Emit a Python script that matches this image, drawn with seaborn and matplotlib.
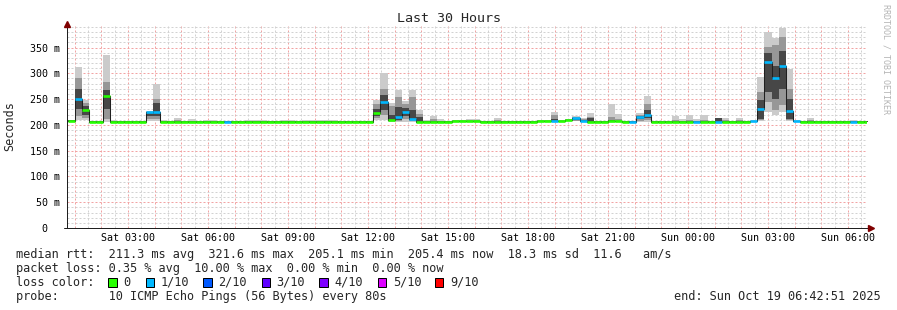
import numpy as np
import pandas as pd
import matplotlib
matplotlib.use("Agg")
import matplotlib.pyplot as plt
from matplotlib.ticker import MultipleLocator, FixedLocator, FuncFormatter
from matplotlib.patches import Rectangle
import matplotlib.transforms as mtransforms
import seaborn as sns

# ---------------- data ----------------
# time axis in hours since Sat 00:00; graph spans 00:42:51 Sat .. 06:42:51 Sun
X_START = 0.7142
X_END = 30.7142
STEP_H = 16 / 60          # consolidation step (16 min)
T0 = 0.7333               # left edge of first step

median_ms = [
    208, 251, 229, 206, 206, 255, 206, 206, 206, 206,
    206, 224, 224, 206, 206, 206, 206, 206, 206, 206,
    206, 206, 206, 206, 206, 206, 206, 206, 206, 206,
    206, 206, 206, 206, 206, 206, 206, 206, 206, 206,
    206, 206, 206, 223, 244, 210, 215, 225, 212, 206,
    206, 206, 206, 206, 208, 208, 208, 208, 206, 206,
    206, 206, 206, 206, 206, 206, 208, 208, 207, 208,
    210, 213, 207, 206, 206, 206, 207, 207, 206, 206,
    215, 220, 206, 206, 206, 206, 206, 206, 206, 206,
    206, 206, 206, 206, 206, 206, 207, 231, 322, 290,
    314, 227, 207, 206, 206, 206, 206, 206, 206, 206,
    206, 206, 205.5,
]
loss_tenths = [
    0, 1, 0, 0, 0, 0, 0, 0, 0, 0,
    0, 1, 1, 0, 0, 0, 0, 0, 0, 0,
    0, 0, 1, 0, 0, 0, 0, 0, 0, 0,
    0, 0, 0, 0, 0, 0, 0, 0, 0, 0,
    0, 0, 0, 0, 1, 0, 1, 1, 1, 0,
    0, 0, 0, 0, 0, 0, 0, 0, 0, 0,
    0, 0, 0, 0, 0, 0, 0, 0, 1, 0,
    0, 1, 1, 0, 0, 0, 0, 0, 0, 1,
    1, 1, 0, 0, 0, 0, 0, 0, 1, 0,
    0, 1, 0, 0, 0, 0, 1, 1, 1, 1,
    1, 1, 1, 0, 0, 0, 0, 0, 0, 0,
    1, 0, 0,
]
smoke_max = [
    210, 312, 248, 207, 207, 336, 209, 207, 207, 207,
    207, 226, 280, 210, 207, 213, 207, 211, 207, 210,
    210, 207, 207, 207, 207, 210, 210, 210, 207, 207,
    210, 210, 207, 210, 210, 210, 210, 210, 207, 207,
    207, 207, 207, 248, 301, 242, 268, 246, 268, 228,
    210, 217, 211, 207, 209, 209, 211, 211, 207, 207,
    213, 207, 207, 207, 207, 207, 209, 209, 225, 209,
    211, 217, 213, 223, 207, 207, 241, 220.5, 207, 207,
    223, 256, 207, 207, 207, 217, 211, 220, 211, 220,
    207, 213, 213, 207, 213, 207, 210, 293, 380, 368,
    388, 309, 210, 207, 213, 207, 207, 207, 207, 207,
    210, 207, 207,
]
smoke_hi2 = [
    209, 291, 243, 207, 207, 283, 207, 207, 207, 207,
    207, 225, 250, 208, 207, 209, 207, 208, 207, 208,
    208, 207, 207, 207, 207, 208, 208, 208, 207, 207,
    208, 208, 207, 208, 208, 208, 208, 208, 207, 207,
    207, 207, 207, 240, 270, 236, 254, 240, 254, 222,
    208, 212, 208, 207, 208.5, 208.5, 209, 209, 207, 207,
    209, 207, 207, 207, 207, 207, 208.5, 208.5, 220, 208.5,
    210.5, 215, 211, 216, 207, 207, 215, 212, 207, 207,
    219, 241, 207, 207, 207, 210, 208, 210, 208, 210,
    207, 213, 209, 207, 209, 207, 208, 264, 351, 354,
    370, 270, 208, 207, 209, 207, 207, 207, 207, 207,
    208, 207, 207,
]
smoke_hi1 = [
    208.5, 270, 236, 207, 207, 268, 207, 207, 207, 207,
    207, 224.5, 242, 207, 207, 207, 207, 207, 207, 207,
    207, 207, 207, 207, 207, 207, 207, 207, 207, 207,
    207, 207, 207, 207, 207, 207, 207, 207, 207, 207,
    207, 207, 207, 230, 258, 220, 235, 232, 228, 215,
    207, 208, 207, 207, 208, 208, 208, 208, 207, 207,
    207, 207, 207, 207, 207, 207, 208, 208, 212, 208,
    210.2, 214, 209, 213, 207, 207, 210, 208, 207, 207,
    217, 228, 207, 207, 207, 207, 207, 207, 207, 207,
    207, 212.5, 207, 207, 207, 207, 207, 249, 340, 315,
    344, 250, 207, 207, 207, 207, 207, 207, 207, 207,
    207, 207, 207,
]
smoke_lo1 = [
    207, 231, 220, 205, 205, 231, 205, 205, 205, 205,
    205, 218, 218, 205, 205, 205, 205, 205, 205, 205,
    205, 205, 205, 205, 205, 205, 205, 205, 205, 205,
    205, 205, 205, 205, 205, 205, 205, 205, 205, 205,
    205, 205, 205, 218, 228, 208, 210, 218, 209, 205,
    205, 205, 205, 205, 207, 207, 207, 207, 205, 205,
    205, 205, 205, 205, 205, 205, 207, 207, 205, 207,
    209, 210, 205, 205, 205, 205, 205, 205, 205, 205,
    211, 214, 205, 205, 205, 205, 205, 205, 205, 205,
    205, 205, 205, 205, 205, 205, 205, 212, 264, 251,
    270, 212, 205, 205, 205, 205, 205, 205, 205, 205,
    205, 205, 205,
]
smoke_lo2 = [
    206.5, 218, 213, 205, 205, 212, 205, 205, 205, 205,
    205, 212, 212, 205, 205, 205, 205, 205, 205, 205,
    205, 205, 205, 205, 205, 205, 205, 205, 205, 205,
    205, 205, 205, 205, 205, 205, 205, 205, 205, 205,
    205, 205, 205, 214, 220, 207, 208, 212, 207, 205,
    205, 205, 205, 205, 206.5, 206.5, 206.5, 206.5, 205, 205,
    205, 205, 205, 205, 205, 205, 206.5, 206.5, 205, 206.5,
    208, 208, 205, 205, 205, 205, 205, 205, 205, 205,
    208, 210, 205, 205, 205, 205, 205, 205, 205, 205,
    205, 205, 205, 205, 205, 205, 205, 210, 245, 228,
    238, 209, 205, 205, 205, 205, 205, 205, 205, 205,
    205, 205, 205,
]
smoke_min = [
    206, 209, 209, 205, 205, 206, 205, 205, 205, 205,
    205, 207, 207, 205, 205, 205, 205, 205, 205, 205,
    205, 205, 205, 205, 205, 205, 205, 205, 205, 205,
    205, 205, 205, 205, 205, 205, 205, 205, 205, 205,
    205, 205, 205, 210, 209, 206, 206, 206, 206, 205,
    205, 205, 205, 205, 206, 206, 206, 206, 205, 205,
    205, 205, 205, 205, 205, 205, 206, 206, 205, 206,
    207, 207, 205, 205, 205, 205, 205, 205, 205, 205,
    206, 206, 205, 205, 205, 205, 205, 205, 205, 205,
    205, 205, 205, 205, 205, 205, 205, 207, 225, 220,
    225, 207, 205, 205, 205, 205, 205, 205, 205, 205,
    205, 205, 205,
]

loss_levels = ["0", "1/10", "2/10", "3/10", "4/10", "5/10", "9/10"]
loss_colors = ["#26ff00", "#00b8ff", "#0059ff", "#5e00ff", "#7e00ff", "#dd00ff", "#ff0000"]
y_ticks_ms = [0, 50, 100, 150, 200, 250, 300, 350]
x_label_hours = [3, 6, 9, 12, 15, 18, 21, 24, 27, 30]

legend_lines = [
    "median rtt:  211.3 ms avg  321.6 ms max  205.1 ms min  205.4 ms now  18.3 ms sd  11.6   am/s",
    "packet loss: 0.35 % avg  10.00 % max  0.00 % min  0.00 % now",
    "loss color:",
    "probe:       10 ICMP Echo Pings (56 Bytes) every 80s",
]
end_text = "end: Sun Oct 19 06:42:51 2025"

# ---------------- style ----------------
sns.set_style("white")
plt.rcParams["font.family"] = ["DejaVu Sans Mono", "DejaVu Sans"]
MONO = "DejaVu Sans Mono"

W, H = 897, 310
fig = plt.figure(figsize=(W / 100, H / 100), dpi=100)
fig.patch.set_facecolor("white")
ax_l, ax_r, ax_t, ax_b = 67, 867, 24, 228
ax = fig.add_axes([ax_l / W, 1 - ax_b / H, (ax_r - ax_l) / W, (ax_b - ax_t) / H])
ax.set_facecolor("white")

N = len(median_ms)
t_left = T0 + STEP_H * np.arange(N)
t_edges = np.append(t_left, t_left[-1] + STEP_H)


def ext(a):
    a = np.asarray(a, dtype=float)
    return np.append(a, a[-1])


# smoke bands (outer light -> inner dark)
bands = [(smoke_min, smoke_max, "#cbcbcb"),
         (smoke_lo2, smoke_hi2, "#979797"),
         (smoke_lo1, smoke_hi1, "#474747")]
for lo, hi, c in bands:
    ax.fill_between(t_edges, ext(lo), ext(hi), step="post", color=c, lw=0, zorder=2)

# median step line
df = pd.DataFrame({"t": t_edges, "median": ext(median_ms)})
sns.lineplot(data=df, x="t", y="median", drawstyle="steps-post", color="#202020",
             lw=0.75, ax=ax, zorder=3, estimator=None, sort=False, legend=False)

# loss-coloured median bars
ax.hlines(median_ms, t_left, t_left + STEP_H,
          colors=[loss_colors[l] for l in loss_tenths], lw=1.9, zorder=4,
          capstyle="butt")

ax.set_xlim(X_START, X_END)
ax.set_ylim(0, 204 / 0.5157)
ax.set_xlabel("")
ax.set_ylabel("")

# grid
ax.xaxis.set_major_locator(MultipleLocator(1))
ax.xaxis.set_minor_locator(MultipleLocator(0.5))
ax.yaxis.set_major_locator(FixedLocator(y_ticks_ms))
ax.yaxis.set_minor_locator(MultipleLocator(10))


def xfmt(v, pos):
    h = int(round(v))
    if h in x_label_hours:
        return f"{'Sat' if h < 24 else 'Sun'} {h % 24:02d}:00"
    return ""


ax.xaxis.set_major_formatter(FuncFormatter(xfmt))
ax.yaxis.set_major_formatter(FuncFormatter(lambda v, p: "0" if v == 0 else f"{int(v)} m"))

ax.set_axisbelow(True)
ax.grid(which="major", color="#f2a3a3", linestyle=(0, (2, 2)), lw=0.72)
ax.grid(which="minor", color="#d2d2d2", linestyle=(0, (2, 2)), lw=0.72)

ax.tick_params(axis="x", which="major", length=2.2, width=0.72, color="#e08080",
               direction="out", labelsize=7.2, pad=1.5, labelcolor="black")
ax.tick_params(axis="y", which="major", length=2.2, width=0.72, color="#202020",
               direction="out", labelsize=7.2, pad=3, labelcolor="black")
ax.tick_params(which="minor", length=0)

for s in ["top", "right", "bottom"]:
    ax.spines[s].set_visible(False)
ax.spines["left"].set_color("#202020")
ax.spines["left"].set_linewidth(0.72)

# x axis line extended with arrow, y arrow
ax.plot([-0.004, 1.004], [0, 0], transform=ax.transAxes, clip_on=False,
        color="#202020", lw=0.72, zorder=5)
ax.plot([1.0045], [0], marker=">", ms=4, color="#800000", transform=ax.transAxes,
        clip_on=False, zorder=6)
ax.plot([0], [1.002], marker="^", ms=4, color="#800000", transform=ax.transAxes,
        clip_on=False, zorder=6)

# shift the "0" label left like rrdtool's fixed-width formatting
fig.canvas.draw()
zero_lbl = ax.yaxis.get_major_ticks()[0].label1
zero_lbl.set_transform(zero_lbl.get_transform() +
                       mtransforms.ScaledTranslation(-12 / 100, 0, fig.dpi_scale_trans))

# texts
fig.text(0.5, 1 - 19 / H, "Last 30 Hours", ha="center", va="center", fontsize=9.6,
         family=MONO)
fig.text(10 / W, 1 - 126 / H, "Seconds", rotation=90, ha="center", va="center",
         fontsize=8.5, family=MONO)
fig.text(886 / W, 1 - 59 / H, "RRDTOOL / TOBI OETIKER", rotation=270, ha="center",
         va="center", fontsize=6, color="#b4b4b4", family=MONO)

line_y = [254.3, 268.3, 282.3, 296.3]
for txt, yy in zip(legend_lines, line_y):
    fig.text(16 / W, 1 - yy / H, txt, ha="left", va="center", fontsize=8.55, family=MONO)
fig.text(881 / W, 1 - line_y[3] / H, end_text, ha="right", va="center", fontsize=8.55,
         family=MONO)

sq_x = [108.3, 145.7, 203.3, 261.7, 319.3, 377.7, 435.0]
for x0, lab, col in zip(sq_x, loss_levels, loss_colors):
    fig.add_artist(Rectangle((x0 / W, 1 - 286.7 / H), 8.4 / W, 8.4 / H,
                             transform=fig.transFigure, facecolor=col,
                             edgecolor="black", lw=0.72))
    fig.text((x0 + 15) / W, 1 - line_y[2] / H, lab, ha="left", va="center",
             fontsize=8.55, family=MONO)

fig.savefig("out.png", dpi=100, facecolor="white")
